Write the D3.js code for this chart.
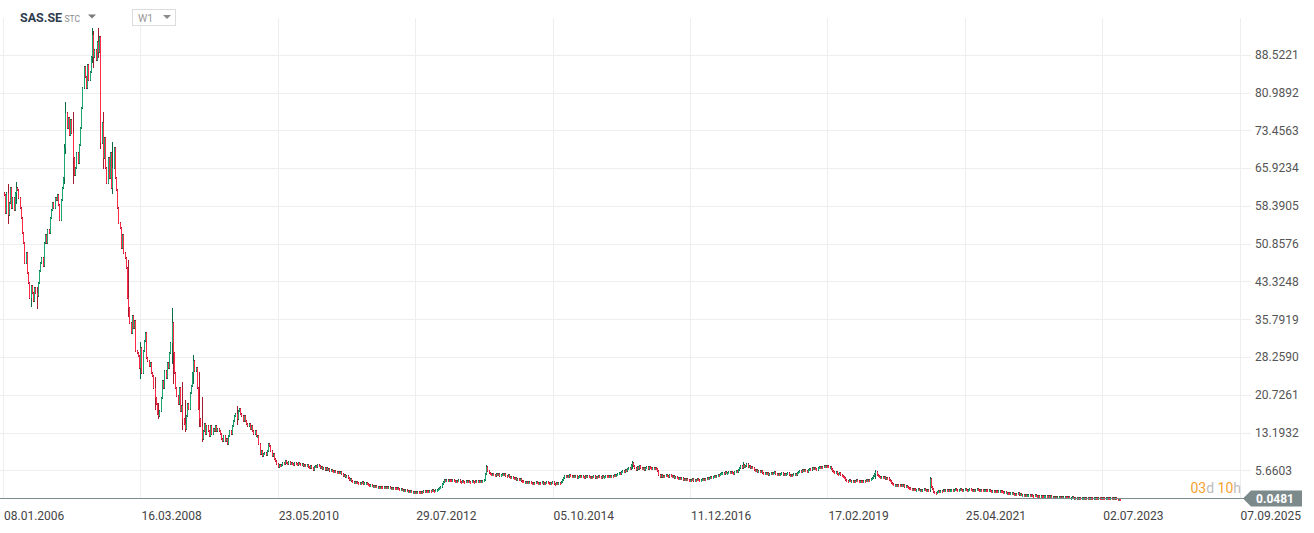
<!DOCTYPE html>
<html><head><meta charset="utf-8">
<script src="https://cdn.jsdelivr.net/npm/d3@7"></script>
<style>
body{margin:0;background:#fff;}
svg{display:block;font-family:Roboto,"Noto Sans",sans-serif;}
</style>
</head><body>
<svg id="c" width="1314" height="533"></svg>
<script>
// ---------- data ----------
const symbol = "SAS.SE";
const market = "STC";
const interval = "W1";
const firstWeek = "08.01.2006";
const firstOpen = 61;
// weekly closes
const closes = [
60.5,57,61,56.5,59,62,58,60,57.5,61,
62,61.5,60,58,56,53,51,47,49,45,
43,40,42.5,41,39.5,42,41,40.5,43,45.5,
47,48,46.5,51,52.5,51,53.5,53,56,57.5,
59,58,60,59.5,60.5,58.5,55.5,59.5,62,64,
70,77,74,76,72.5,75.5,73,68,64.5,66,
69,67,70.5,74,78,82,86,84,82,86.5,
83.5,85,88,92.5,88,89.5,87.5,91,89,92,
71,75,68,72,66,63,68,64,69,62,
66,70,64,61.5,58,55,54,50,52.5,49,
48,46,40,38,35,33,36.5,34,35.5,29.5,
29,28.5,26,30,25,29.5,31.5,33,28,27.5,
26.5,27,25,24.5,22,20,19,17,16.5,17.5,
20,23.5,22,25.5,24,27,26,29,31,35,
29,25,22,20.5,19,22,17.5,18.5,16,15,
14,16.5,19,18,21,22.5,25,27.5,25.5,26,
22,18,16,14.5,12,13.5,15,13,14.5,13.5,
12.5,14.5,13,14,13.5,14.5,13.5,14,13.5,13,
12,11.5,12.5,11.5,12,11,12.5,13.5,13,14.5,
15.5,16.5,17,16,17.5,18,17,16.5,15.5,16.5,
15.5,15,14.5,15,14,14.5,13.5,13,13.5,12.5,
12.5,11,9,9.5,8.5,9,9.2,8.8,9.5,11,
10.5,9.5,8.5,9,8,7.5,7,6.3,6.8,6.5,
6.8,7.2,7,7.5,7.2,7,7.4,6.9,7.2,7,
6.8,7.1,7,6.8,7.2,6.9,6.7,6.9,6.6,6.8,
6.5,6.7,6.4,6.1,6.5,6.2,5.8,6.3,6.6,6.4,
6.7,6.5,6.2,6.3,6,6.2,5.8,6.1,5.7,5.9,
5.6,5.8,5.5,5.3,5.6,5.4,5.2,5.4,5.1,5.3,
4.9,4.6,4.8,4.3,4.5,4.1,3.8,4,3.6,3.3,
3.4,3.1,3.3,3.2,3,3.2,3.1,3.3,2.9,3.1,
3.2,2.9,2.8,2.6,2.7,2.5,2.6,2.4,2.5,2.3,
2.4,2.2,2.4,2.3,2.1,2.3,2.2,2.4,2.2,2.3,
2.1,2.2,2,2.2,2.1,2,2.1,1.9,1.8,1.9,
1.7,1.8,1.6,1.7,1.5,1.6,1.4,1.5,1.3,1.4,
1.2,1.3,1.2,1.4,1.3,1.2,1.4,1.3,1.5,1.4,
1.6,1.5,1.4,1.6,1.5,1.7,1.6,1.5,1.7,1.8,
1.9,2.1,2.4,2.9,3.4,3.7,3.5,3.7,3.6,3.8,
3.7,3.5,3.7,3.6,3.4,3.6,3.5,3.7,3.4,3.3,
3.5,3.4,3.3,3.5,3.4,3.6,3.4,3.3,3.5,3.4,
3.3,3.5,3.4,3.6,3.3,3.5,3.4,3.6,3.8,5,
6.4,5.6,5.2,5,4.7,5,4.8,4.6,4.9,4.7,
4.9,4.6,4.8,5,4.7,4.9,4.6,4.5,4.7,4.4,
4.2,4.4,4.1,3.9,4.2,3.8,4,3.7,3.9,3.6,
3.5,3.3,3.4,3.2,3.3,3.1,3.3,3.2,3,3.2,
3.1,3.3,3.2,3,3.2,3.1,3.3,3,3.2,3.1,
3.3,3.1,3,3.2,3.1,3.3,3,2.9,3.1,3,
3.2,3.1,3.4,3.7,4.2,4.5,4.3,4.6,4.4,4.7,
4.5,4.4,4.6,4.3,4.5,4.2,4.4,4.6,4.3,4.5,
4.4,4.2,4.5,4.3,4.6,4.4,4.2,4.4,4.3,4.5,
4.2,4.4,4.3,4.5,4.4,4.2,4.5,4.3,4.4,4.6,
4.5,4.3,4.5,4.4,4.6,4.5,4.7,4.6,4.8,4.9,
5.1,5,5.3,5.5,5.4,5.7,5.6,5.9,6.1,6,
6.8,7.2,6.6,6.2,5.8,6.3,6,6.5,6.2,5.9,
6.1,5.8,6.2,6.4,6,6.3,6.1,5.9,6.2,6,
6.2,5.9,5.6,4.8,4.4,4.7,4.3,4.6,4.5,4.8,
4.6,4.4,4.7,4.5,4.3,4.5,4.2,4.4,4.1,4,
4.2,3.9,4.1,3.8,4,3.7,3.9,3.8,3.6,3.8,
3.7,3.9,3.6,3.8,3.7,3.9,3.8,3.6,3.8,3.9,
3.8,4,3.9,4.1,4,4.2,4.3,4.1,4.4,4.5,
4.4,4.6,4.8,4.7,5,5.1,5.2,5,5.3,5.1,
5.2,5.4,5.1,5.3,5.2,5,5.3,5.5,5.4,5.7,
6.1,6.5,6.2,6.8,6.4,6.6,6.9,6.3,6.6,6.2,
6.4,6.1,5.8,5.5,5.7,5.4,5.6,5.3,5.5,5.2,
5,5.2,4.9,5.1,4.8,5,5.2,4.9,5.1,5.3,
5,4.8,5,4.7,4.9,5.1,4.8,5,4.7,4.9,
5.1,4.8,4.6,4.8,4.7,4.9,5,4.8,5.1,5.3,
5.6,5.4,5.7,5.5,5.8,5.6,5.4,5.7,5.9,5.8,
6.1,5.9,6.2,6,5.8,6.1,6.3,6.2,6.4,6.3,
6.5,6.4,6.6,6.5,6.3,6.4,6,5.6,5.3,5.1,
5.3,5,4.9,5.1,4.8,4.6,4.4,4.1,3.8,3.6,
3.5,3.7,3.5,3.6,3.4,3.6,3.5,3.7,3.5,3.4,
3.6,3.5,3.4,3.6,3.5,3.7,3.6,3.8,3.7,3.9,
4.2,4.6,4.9,5.3,4.7,4.5,4.3,4.1,4.4,4.2,
4.3,4,4.2,4.1,3.8,3.5,3.2,2.9,2.7,2.8,
2.6,2.8,2.7,2.6,2.8,2.5,2.7,2.4,2.6,2.3,
2.2,2.1,1.9,1.8,2,1.9,1.7,1.8,1.9,1.7,
1.8,1.6,1.7,1.9,1.8,1.6,1.8,1.7,3.9,2.4,
1.9,1.4,1.2,1.1,1.3,1.5,1.4,1.6,1.5,1.7,
1.6,1.8,1.7,1.8,1.6,1.7,1.8,1.7,1.8,1.9,
1.8,1.7,1.8,1.9,1.8,1.7,1.8,1.9,1.8,1.7,
1.8,1.9,1.8,1.7,1.8,1.7,1.8,1.9,1.8,1.7,
1.8,1.7,1.6,1.7,1.8,1.7,1.6,1.7,1.6,1.5,
1.6,1.5,1.6,1.5,1.4,1.5,1.6,1.5,1.3,1.2,
1.3,1.1,1.2,1.1,1,1.1,1.2,1,0.9,1,
0.9,1.1,0.8,0.9,0.7,0.8,0.7,0.8,0.6,0.7,
0.8,0.6,0.7,0.6,0.5,0.7,0.6,0.5,0.6,0.5,
0.6,0.5,0.4,0.5,0.6,0.4,0.5,0.4,0.5,0.4,
0.45,0.35,0.4,0.3,0.35,0.4,0.3,0.35,0.25,0.3,
0.35,0.3,0.25,0.3,0.2,0.25,0.3,0.2,0.25,0.2,
0.22,0.18,0.2,0.15,0.18,0.2,0.15,0.17,0.14,0.16,
0.12,0.15,0.13,0.1,0.12,0.14,0.11,0.09,0.11,0.1,
0.08,0.1,0.09,0.07,0.08,0.1,0.07,0.06,0.08,0.06,
0.07,0.05,0.06,0.05,0.04,0.05,0.048
];
// notable wicks [week index, high, low]
const wicks = [
  [3,62.5,55],[10,63,59],[22,42,38.5],[27,42,38],[50,70.5,63],[51,79,69],[57,77,63],
  [73,93.8,87],[74,93,86],[78,94,88],[80,90.5,70],[82,77,66],[90,71,61],
  [103,47.5,36.5],[113,31,24],[125,24,18],[128,19,16.2],[139,37.8,27],[140,35,23],
  [148,23,14],[150,19.5,13.5],[157,28.5,23],[162,25,14.5],[164,20,11.5],
  [193,18.3,15],[400,6.6,4.9],[521,7.4,6.2],[613,7.1,6.1],[723,5.5,4.2],[768,4.1,1.6]
];
const yTicks = [5.6603,13.1932,20.7261,28.2590,35.7919,43.3248,50.8576,58.3905,65.9234,73.4563,80.9892,88.5221];
const xTickLabels = ["08.01.2006","16.03.2008","23.05.2010","29.07.2012","05.10.2014","11.12.2016","17.02.2019","25.04.2021","02.07.2023","07.09.2025"];
const lastPrice = 0.0481;
const countdownParts = [["03","num"],["d","unit"],[" 10","num"],["h","unit"]];

// ---------- chart ----------
const parse = d3.timeParse("%d.%m.%Y");
const svg = d3.select("#c");
const plotRight = 1245;

const x = d3.scaleTime()
  .domain([parse(xTickLabels[0]), parse(xTickLabels[xTickLabels.length-1])])
  .range([4, 1240.6]);
const y = d3.scaleLinear().domain([0, 88.5221]).range([498.8, 54.8]);

const start = parse(firstWeek);
const candles = closes.map((c,i)=>{
  const o = i===0 ? firstOpen : closes[i-1];
  return {date: d3.timeWeek.offset(start, i), o, c, h: Math.max(o,c), l: Math.min(o,c)};
});
wicks.forEach(([i,h,l])=>{ const d=candles[i]; d.h=Math.max(d.h,h); d.l=Math.min(d.l,l); });

// grid
const grid = svg.append("g");
grid.selectAll("line.h").data(yTicks).join("line")
  .attr("x1",0).attr("x2",1251)
  .attr("y1",d=>Math.round(y(d))+0.5).attr("y2",d=>Math.round(y(d))+0.5)
  .attr("stroke","#eeeeee");
grid.selectAll("line.v").data(xTickLabels).join("line")
  .attr("x1",d=>Math.round(x(parse(d)))-0.5).attr("x2",d=>Math.round(x(parse(d)))-0.5)
  .attr("y1",18).attr("y2",498)
  .attr("stroke","#eeeeee");

// y labels
svg.append("g").selectAll("text").data(yTicks).join("text")
  .attr("x",1255).attr("y",d=>y(d)+4.3)
  .attr("font-size",12).attr("fill","#555")
  .text(d=>d.toFixed(4));

// x labels
svg.append("g").selectAll("text").data(xTickLabels).join("text")
  .attr("x",d=>x(parse(d))).attr("y",520)
  .attr("font-size",12).attr("fill","#444")
  .text(d=>d);

// candles
const upBody="#1ba672", upWick="#0d6b45", dnBody="#ff2a47", dnWick="#a51b2f";
const cg = svg.append("g");
candles.forEach(d=>{
  const px = Math.round(x(d.date));
  const up = d.c >= d.o;
  const yh = Math.round(y(d.h)) - 1, yl = Math.round(y(d.l)) + 1;
  cg.append("rect").attr("x",px).attr("width",1)
    .attr("y",yh).attr("height",Math.max(2,yl-yh))
    .attr("fill", up?upWick:dnWick);
  const yt = Math.round(y(Math.max(d.o,d.c))), yb = Math.round(y(Math.min(d.o,d.c)));
  cg.append("rect").attr("x",px).attr("width",1)
    .attr("y",yt).attr("height",Math.max(2,yb-yt))
    .attr("fill", up?upBody:dnBody);
});

// last price line
const yp = Math.round(y(lastPrice))-0.5;
svg.append("line").attr("x1",0).attr("x2",plotRight).attr("y1",yp).attr("y2",yp)
  .attr("stroke","#7d8a8b").attr("stroke-width",1);
svg.append("path")
  .attr("d",`M1243,${yp} L1251,${yp-8} L1302,${yp-8} L1302,${yp+8} L1251,${yp+8} Z`)
  .attr("fill","#7d8a8b");
svg.append("text").attr("x",1275).attr("y",yp+4.3).attr("text-anchor","middle")
  .attr("font-size",12).attr("font-weight",700).attr("fill","#fff").text(lastPrice.toFixed(4));

// countdown
const cd = svg.append("text").attr("x",1241).attr("y",yp-6).attr("text-anchor","end")
  .attr("font-size",14);
cd.selectAll("tspan").data(countdownParts).join("tspan")
  .attr("fill",d=>d[1]==="num"?"#f5a230":"#bcbcbc").attr("xml:space","preserve").text(d=>d[0]);

// header
svg.append("rect").attr("x",12).attr("y",8).attr("width",100).attr("height",20).attr("fill","#fff");
svg.append("text").attr("x",20).attr("y",22).attr("font-size",12.5).attr("font-weight",700)
  .attr("fill","#2e3d4d").text(symbol);
svg.append("text").attr("x",64.5).attr("y",22).attr("font-size",8.5).attr("fill","#8a8a8a").text(market);
svg.append("path").attr("d","M88,14.5 L96,14.5 L92,18.5 Z").attr("fill","#7a7a7a");
svg.append("rect").attr("x",132.5).attr("y",9.5).attr("width",43).attr("height",16)
  .attr("fill","#fff").attr("stroke","#dcdcdc");
svg.append("text").attr("x",138).attr("y",21.5).attr("font-size",10.5).attr("fill","#999").text(interval);
svg.append("path").attr("d","M163,15 L171,15 L167,19 Z").attr("fill","#8a8a8a");
</script>
</body></html>
